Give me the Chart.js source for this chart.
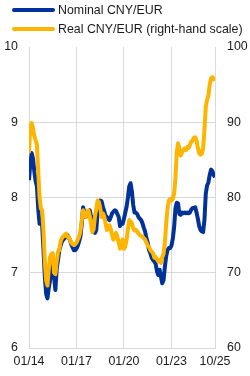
<!DOCTYPE html>
<html><head><meta charset="utf-8">
<script src="https://cdn.jsdelivr.net/npm/chart.js@4/dist/chart.umd.min.js"></script>
<style>
html,body{margin:0;padding:0;background:#fff;}
#wrap{position:relative;width:250px;height:376px;}
canvas{position:absolute;left:0;top:0;}
.leg{position:absolute;left:12px;height:19px;display:flex;align-items:center;font-family:"Liberation Sans",Arial,sans-serif;font-size:12.4px;color:#1a1a1a;white-space:nowrap;}
.leg span.sw{display:inline-block;width:43px;height:4px;border-radius:2px;margin-right:3px;}
</style></head>
<body><div id="wrap">
<canvas id="c" width="250" height="376"></canvas>
<div class="leg" style="top:0px"><span class="sw" style="background:#003299"></span>Nominal CNY/EUR</div>
<div class="leg" style="top:19px"><span class="sw" style="background:#ffb400"></span>Real CNY/EUR (right-hand scale)</div>
</div>
<script>
// month index 0 = Jan 2014 ... 141 = Oct 2025
const tickMonths = [0, 36, 72, 108, 141];
const tickLabels = ['01/14', '01/17', '01/20', '01/23', '10/25'];
const leftTicks = [6, 7, 8, 9, 10];
const rightTicks = [60, 70, 80, 90, 100];

const nominal = [
8.23,8.45,8.59,8.52,8.35,8.22,8.15,7.85,7.65,7.70,7.62,7.30,
6.95,6.72,6.66,6.80,6.90,7.05,7.18,6.95,6.77,7.05,7.17,7.30,
7.36,7.42,7.44,7.46,7.48,7.50,7.47,7.44,7.38,7.34,7.30,7.30,
7.32,7.36,7.42,7.48,7.65,7.87,7.80,7.74,7.77,7.80,7.83,7.75,
7.68,7.55,7.53,7.57,7.80,7.92,7.96,7.95,7.88,7.82,7.76,7.74,
7.72,7.70,7.74,7.79,7.81,7.83,7.82,7.78,7.74,7.62,7.65,7.65,
7.72,7.80,7.88,8.00,8.15,8.19,8.08,7.90,7.80,7.80,7.78,7.74,
7.72,7.70,7.66,7.60,7.55,7.46,7.40,7.30,7.26,7.20,7.17,7.15,
7.12,7.02,6.97,7.04,6.95,6.86,6.90,7.08,7.22,7.30,7.33,7.33,
7.36,7.45,7.60,7.85,7.93,7.92,7.78,7.77,7.80,7.79,7.80,7.79,
7.80,7.79,7.80,7.84,7.86,7.86,7.87,7.80,7.72,7.62,7.57,7.55,
7.54,7.70,8.05,8.16,8.20,8.30,8.37,8.35,8.30,8.27
];
const real = [
85.9,89.5,89.9,89.2,88.2,87.6,87.0,83.5,80.0,78.5,78.3,75.5,
71.5,69.0,68.3,70.5,72.1,72.5,72.6,70.0,69.8,71.5,72.8,73.0,
74.2,74.6,74.8,75.0,75.2,74.8,74.8,74.4,74.0,73.8,73.7,73.8,
74.0,74.4,74.8,75.5,77.0,78.3,77.8,77.4,78.1,78.3,77.6,76.5,
75.4,75.8,77.5,78.5,79.6,79.4,78.6,77.4,77.9,77.5,76.6,75.7,
75.9,76.3,75.8,75.0,74.4,74.7,75.3,74.8,74.0,73.2,73.8,74.4,
73.2,73.5,74.4,75.8,77.0,76.8,76.6,75.9,75.6,75.7,75.5,75.2,
75.0,74.9,74.8,74.6,74.4,74.0,73.6,73.4,73.0,72.8,72.6,72.0,
72.1,71.8,71.5,71.7,71.3,72.1,72.5,74.0,76.5,78.5,79.6,79.8,
79.6,79.8,80.5,82.5,86.0,87.2,86.5,85.6,86.0,86.3,86.5,86.3,
86.7,86.6,87.0,87.4,87.6,87.9,88.0,87.6,86.6,85.9,85.7,85.8,
86.5,89.0,92.0,93.0,93.5,95.0,95.8,96.0,95.8,95.5
];

const BLUE = '#003299', YELLOW = '#ffb400', GRID = '#d9d9d9', TXT = '#1a1a1a';
const FONT = {family: '"Liberation Sans", Arial, sans-serif', size: 12.4};

new Chart(document.getElementById('c'), {
  type: 'line',
  data: {
    datasets: [
      {label: 'Nominal CNY/EUR', data: nominal.map((v, i) => ({x: i, y: v})), yAxisID: 'y',
       borderColor: BLUE, backgroundColor: BLUE, borderWidth: 4, pointRadius: 0, order: 2, borderJoinStyle: 'round'},
      {label: 'Real CNY/EUR (right-hand scale)', data: real.map((v, i) => ({x: i, y: v})), yAxisID: 'y2',
       borderColor: YELLOW, backgroundColor: YELLOW, borderWidth: 4, pointRadius: 0, order: 1, borderJoinStyle: 'round'}
    ]
  },
  options: {
    responsive: false, animation: false, devicePixelRatio: 1,
    layout: {padding: {top: 47, bottom: 0, left: 0, right: 0}},
    plugins: {legend: {display: false}, tooltip: {enabled: false}},
    scales: {
      x: {
        type: 'linear', min: 0, max: 141,
        afterBuildTicks: s => { s.ticks = tickMonths.map(v => ({value: v})); },
        afterFit: s => { s.height = 28; },
        ticks: {callback: (v) => tickLabels[tickMonths.indexOf(v)], font: FONT, color: TXT, padding: 6, maxRotation: 0, autoSkip: false},
        grid: {color: GRID, lineWidth: 1, drawTicks: false},
        border: {color: GRID}
      },
      y: {
        position: 'left', min: 6, max: 10,
        afterBuildTicks: s => { s.ticks = leftTicks.map(v => ({value: v})); },
        afterFit: s => { s.width = 29; },
        ticks: {font: FONT, color: TXT, padding: 11},
        grid: {color: c => c.tick && c.tick.value === 10 ? 'rgba(0,0,0,0)' : GRID, lineWidth: 1, drawTicks: false},
        border: {color: GRID}
      },
      y2: {
        position: 'right', min: 60, max: 100,
        afterBuildTicks: s => { s.ticks = rightTicks.map(v => ({value: v})); },
        afterFit: s => { s.width = 35; },
        ticks: {font: FONT, color: TXT, padding: 12},
        grid: {display: false, drawTicks: false},
        border: {color: GRID}
      }
    }
  }
});
</script>
</body></html>
